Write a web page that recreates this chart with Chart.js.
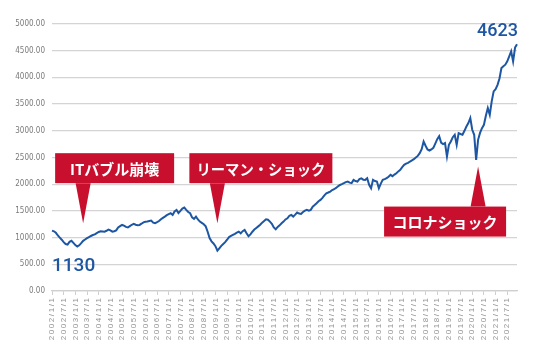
<!DOCTYPE html>
<html>
<head>
<meta charset="utf-8">
<script src="https://cdn.jsdelivr.net/npm/chart.js@4"></script>
<style>
  html, body { margin: 0; padding: 0; background: #fff; }
  #wrap { width: 540px; height: 360px; }
</style>
</head>
<body>
<div id="wrap"><canvas id="cchart" width="540" height="360"></canvas></div>
<script>
// monthly values
let values2002to2005 = [
    1130, 1118, 1090, 1040, 1000, 960, 915, 880, 870, 920, 940, 900,
    860, 831, 855, 895, 940, 965, 990, 1010, 1030, 1048, 1060, 1085,
    1105, 1118, 1115, 1110, 1128, 1150, 1135, 1112, 1120, 1135, 1190, 1215,
    1237, 1225, 1200, 1190, 1215, 1240, 1256, 1240, 1230, 1237, 1260, 1285
];
let values2006to2009 = [
    1295, 1300, 1310, 1318, 1280, 1272, 1290, 1310, 1344, 1370, 1393, 1420,
    1440, 1456, 1425, 1490, 1519, 1460, 1500, 1545, 1562, 1520, 1480, 1456,
    1380, 1350, 1393, 1340, 1300, 1275, 1250, 1210, 1110, 990, 930, 890,
    840, 756, 800, 845, 880, 915, 960, 1010, 1030, 1050, 1070, 1093
];
let values2010to2013 = [
    1112, 1080, 1120, 1144, 1080, 1025, 1060, 1110, 1150, 1180, 1210, 1240,
    1280, 1310, 1344, 1335, 1300, 1260, 1190, 1156, 1200, 1230, 1269, 1300,
    1340, 1362, 1410, 1425, 1393, 1430, 1469, 1450, 1444, 1480, 1505, 1519,
    1506, 1520, 1580, 1610, 1644, 1680, 1706, 1745, 1790, 1831, 1845, 1862
];
let values2014to2017 = [
    1890, 1906, 1930, 1960, 1985, 2000, 2019, 2040, 2050, 2030, 2020, 2081,
    2060, 2050, 2094, 2110, 2085, 2081, 2113, 1988, 1925, 2081, 2060, 2050,
    1925, 2010, 2081, 2095, 2113, 2140, 2175, 2150, 2180, 2206, 2240, 2269,
    2320, 2363, 2385, 2400, 2425, 2445, 2469, 2500, 2530, 2581, 2656, 2800
];
let values2018to2021 = [
    2720, 2650, 2631, 2650, 2680, 2760, 2844, 2900, 2780, 2750, 2769, 2519,
    2738, 2800, 2880, 2925, 2738, 2956, 2940, 2925, 3000, 3080, 3144, 3238,
    3019, 2925, 2456, 2831, 2960, 3050, 3113, 3280, 3425, 3300, 3550, 3738,
    3780, 3860, 3981, 4175, 4210, 4238, 4300, 4394, 4488, 4300, 4560, 4623
];
let values = [].concat(values2002to2005, values2006to2009, values2010to2013,
    values2014to2017, values2018to2021);

let firstYear = 2002;
let months = [];
for (let i = 0; i < values.length; i++) {
    months.push((firstYear + Math.floor(i / 12)) + "/" + (i % 12 + 1) + "/1");
}

let yTicks = [0, 500, 1000, 1500, 2000, 2500, 3000, 3500, 4000, 4500, 5000];

// callouts: label, month it points at, value at the tip
let events = [
    { label: "ITバブル崩壊", month: "2003/5/1", value: 1270, dir: "down" },
    { label: "リーマン・ショック", month: "2009/2/1", value: 1270, dir: "down" },
    { label: "コロナショック", month: "2020/4/1", value: 2330, dir: "up" }
];

const RED = "#c8102e";
const BLUE = "#1d56a3";

/*
    Draw the red callout boxes and the first/last value labels
*/
const calloutPlugin = {
    id: "callouts",
    afterDatasetsDraw(chart) {
        let ctx = chart.ctx;
        let xs = chart.scales.x, ys = chart.scales.y;
        let widths = [119, 143, 122];

        ctx.save();
        events.forEach((ev, i) => {
            let tx = xs.getPixelForValue(months.indexOf(ev.month));
            let ty = ys.getPixelForValue(ev.value);
            let w = widths[i], h = 30, gap = 40, half = 7.5;
            let left, top, baseY;
            if (ev.dir === "down") {
                baseY = ty - gap;
                top = baseY - h;
                left = tx - 28;
            } else {
                baseY = ty + gap;
                top = baseY;
                left = tx + 28 - w;
            }
            ctx.fillStyle = RED;
            ctx.fillRect(left, top, w, h);
            ctx.beginPath();
            ctx.moveTo(tx - half, baseY);
            ctx.lineTo(tx + half, baseY);
            ctx.lineTo(tx, ty);
            ctx.closePath();
            ctx.fill();

            ctx.fillStyle = "#fff";
            ctx.font = "bold 15px 'Noto Sans CJK JP', sans-serif";
            ctx.textAlign = "center";
            ctx.textBaseline = "middle";
            // keep the longer label inside its box
            ctx.fillText(ev.label, left + w / 2, top + h / 2 + 1, w - 14);
        });

        // start and end values
        let x0 = xs.getPixelForValue(0);
        let y0 = ys.getPixelForValue(values[0]);
        let xN = xs.getPixelForValue(values.length - 1);
        let yN = ys.getPixelForValue(values[values.length - 1]);
        ctx.fillStyle = BLUE;
        ctx.textBaseline = "alphabetic";
        ctx.font = "500 19px Roboto, sans-serif";
        ctx.textAlign = "left";
        ctx.fillText(String(values[0]), x0, y0 + 40);
        ctx.font = "500 18px Roboto, sans-serif";
        ctx.textAlign = "right";
        ctx.fillText(String(values[values.length - 1]), xN + 1, yN - 8);
        ctx.restore();
    }
};

function spaced(s) {
    return s.split("").join("\u2009");
}

let UICanvasChart = document.getElementById("cchart");
let _chart = new Chart(UICanvasChart.getContext("2d"), {
    type: "line",
    data: {
        labels: months,
        datasets: [{
            data: values,
            borderColor: BLUE,
            borderWidth: 2,
            pointRadius: 0,
            tension: 0,
            fill: false
        }]
    },
    options: {
        responsive: false,
        animation: false,
        events: [],
        layout: { padding: { top: 24, right: 23, left: 0, bottom: 0 } },
        plugins: {
            legend: { display: false },
            tooltip: { enabled: false }
        },
        scales: {
            x: {
                type: "category",
                offset: false,
                border: { display: true, color: "#cfcfcf", width: 1.3 },
                grid: {
                    display: true,
                    drawOnChartArea: false,
                    drawTicks: true,
                    tickLength: 4,
                    color: (c) => (c.index % 6 === 0 ? "#cfcfcf" : "rgba(0,0,0,0)")
                },
                ticks: {
                    autoSkip: false,
                    minRotation: 90,
                    maxRotation: 90,
                    padding: 3,
                    color: "#939393",
                    font: { family: "'Liberation Sans', Arial, sans-serif", size: 8 },
                    callback: function (val, i) {
                        return i % 6 === 0 ? spaced(this.getLabelForValue(val)) : "";
                    }
                },
                afterFit: (scale) => { scale.height = 69; }
            },
            y: {
                min: yTicks[0],
                max: yTicks[yTicks.length - 1],
                border: { display: false },
                grid: { color: "#d4d4d4", lineWidth: 1.3, drawTicks: false },
                afterBuildTicks: (scale) => { scale.ticks = yTicks.map(v => ({ value: v })); },
                ticks: {
                    padding: 7,
                    color: "#7a7a7a",
                    font: { family: "'Liberation Sans Narrow', 'DejaVu Sans Condensed', sans-serif", size: 8 },
                    callback: (v) => Number(v).toFixed(2)
                },
                afterFit: (scale) => { scale.width = 52; }
            }
        }
    },
    plugins: [calloutPlugin]
});
</script>
</body>
</html>
